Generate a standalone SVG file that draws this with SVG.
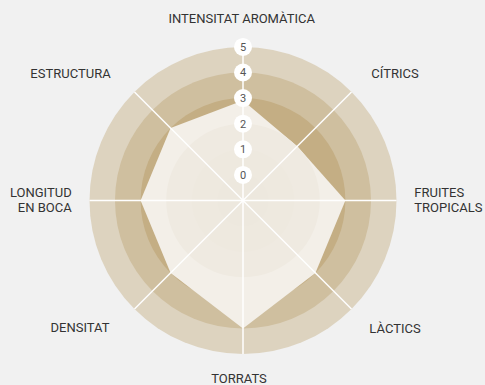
<svg xmlns="http://www.w3.org/2000/svg" width="485" height="385" viewBox="0 0 485 385">
<defs>
<style>
.lbl{font-family:Roboto,"Liberation Sans",sans-serif;font-size:13px;fill:#333333;}
.num{font-family:Roboto,"Liberation Sans",sans-serif;font-size:11px;fill:#555555;text-anchor:middle;}
.badge{fill:#ffffff;}
.spoke{stroke:#ffffff;stroke-width:1.5;fill:none;}
</style>
<clipPath id="polyClip">
<polygon points="243,100.5 297.3,146.2 345.4,200.5 315.4,272.9 243,328.5 170.6,272.9 140.6,200.5 170.6,128.1"/>
</clipPath>
</defs>
<rect x="0" y="0" width="485" height="385" fill="#f1f1f1"/>
<g id="rings">
<circle cx="243" cy="200.5" r="153.5" fill="#ddd3bf"/>
<circle cx="243" cy="200.5" r="128" fill="#cfbf9f"/>
<circle cx="243" cy="200.5" r="102.4" fill="#c4ae84"/>
</g>
<g id="data-area">
<polygon points="243,100.5 297.3,146.2 345.4,200.5 315.4,272.9 243,328.5 170.6,272.9 140.6,200.5 170.6,128.1" fill="#f3efe8"/>
<g clip-path="url(#polyClip)">
<circle cx="243" cy="200.5" r="76.8" fill="#efeae1"/>
<circle cx="243" cy="200.5" r="51.2" fill="#eee9df"/>
<circle cx="243" cy="200.5" r="25.6" fill="#ede8de"/>
</g>
</g>
<g id="connectors">
<line class="spoke" x1="243" y1="200.5" x2="243" y2="47"/>
<line class="spoke" x1="243" y1="200.5" x2="351.5" y2="92"/>
<line class="spoke" x1="243" y1="200.5" x2="396.5" y2="200.5"/>
<line class="spoke" x1="243" y1="200.5" x2="351.5" y2="309"/>
<line class="spoke" x1="243" y1="200.5" x2="243" y2="354"/>
<line class="spoke" x1="243" y1="200.5" x2="134.5" y2="309"/>
<line class="spoke" x1="243" y1="200.5" x2="89.5" y2="200.5"/>
<line class="spoke" x1="243" y1="200.5" x2="134.5" y2="92"/>
</g>
<g id="scale">
<circle class="badge" cx="243" cy="174.9" r="9"/><text class="num" x="243" y="178.8">0</text>
<circle class="badge" cx="243" cy="149.3" r="9"/><text class="num" x="243" y="153.2">1</text>
<circle class="badge" cx="243" cy="123.7" r="9"/><text class="num" x="243" y="127.6">2</text>
<circle class="badge" cx="243" cy="98.1" r="9"/><text class="num" x="243" y="102">3</text>
<circle class="badge" cx="243" cy="72.5" r="9"/><text class="num" x="243" y="76.4">4</text>
<circle class="badge" cx="243" cy="46.9" r="9"/><text class="num" x="243" y="50.8">5</text>
</g>
<g id="node-intensitat"><text class="lbl" x="241.7" y="23.3" text-anchor="middle">INTENSITAT AROMÀTICA</text></g>
<g id="node-citrics"><text class="lbl" x="395" y="78.3" text-anchor="middle">CÍTRICS</text></g>
<g id="node-fruites"><text class="lbl" x="414.3" y="196.7">FRUITES</text><text class="lbl" x="414.3" y="211.7">TROPICALS</text></g>
<g id="node-lactics"><text class="lbl" x="395" y="333" text-anchor="middle">LÀCTICS</text></g>
<g id="node-torrats"><text class="lbl" x="239" y="383.3" text-anchor="middle">TORRATS</text></g>
<g id="node-densitat"><text class="lbl" x="80" y="332.3" text-anchor="middle">DENSITAT</text></g>
<g id="node-longitud"><text class="lbl" x="71.7" y="197.3" text-anchor="end">LONGITUD</text><text class="lbl" x="71.7" y="212.3" text-anchor="end">EN BOCA</text></g>
<g id="node-estructura"><text class="lbl" x="70.5" y="78.3" text-anchor="middle">ESTRUCTURA</text></g>
</svg>
